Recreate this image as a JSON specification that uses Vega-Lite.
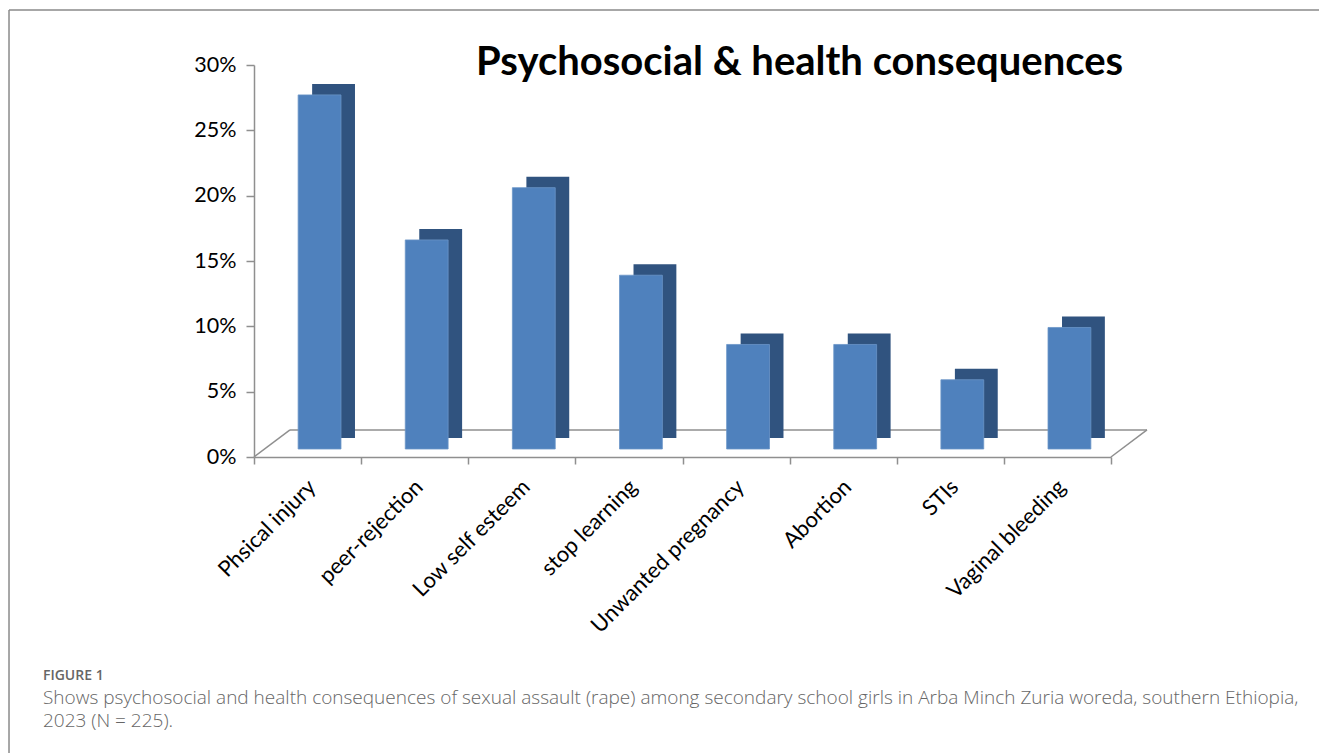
{
  "$schema": "https://vega.github.io/schema/vega-lite/v6.json",
  "width": 893,
  "height": 392,
  "autosize": {"type": "none"},
  "padding": {"left": 254, "top": 65, "right": 172, "bottom": 296},
  "background": "white",
  "config": {"view": {"stroke": null}, "font": "Lato"},
  "data": {
    "values": [
      {"category": "Phsical injury", "value": 0.271},
      {"category": "peer-rejection", "value": 0.16},
      {"category": "Low self esteem", "value": 0.2},
      {"category": "stop learning", "value": 0.133},
      {"category": "Unwanted pregnancy", "value": 0.08},
      {"category": "Abortion", "value": 0.08},
      {"category": "STIs", "value": 0.053},
      {"category": "Vaginal bleeding", "value": 0.093}
    ]
  },
  "layer": [
    {
      "data": {"values": [{}]},
      "layer": [
        {
          "mark": {"type": "rule", "color": "#8f8f8f", "strokeWidth": 1.5},
          "encoding": {
            "x": {"datum": 0.336, "type": "quantitative", "scale": {"domain": [0, 8.3363], "nice": false, "zero": false}, "axis": null},
            "x2": {"datum": 8.3363},
            "y": {"datum": 0.0207, "type": "quantitative", "scale": {"domain": [0, 0.3], "nice": false},
              "axis": {"title": null, "format": ".0%", "values": [0, 0.05, 0.1, 0.15, 0.2, 0.25, 0.3], "grid": false, "labelFont": "Lato", "labelFontSize": 21.5, "labelColor": "#000000", "tickSize": 8, "tickWidth": 1.5, "tickColor": "#8f8f8f", "domainColor": "#8f8f8f", "domainWidth": 1.5, "labelPadding": 10}},
            "y2": {"datum": 0.0207}
          }
        },
        {
          "mark": {"type": "rule", "color": "#8f8f8f", "strokeWidth": 1.5},
          "encoding": {
            "x": {"datum": 0, "type": "quantitative"},
            "x2": {"datum": 0.336},
            "y": {"datum": 0, "type": "quantitative"},
            "y2": {"datum": 0.0207}
          }
        },
        {
          "mark": {"type": "rule", "color": "#8f8f8f", "strokeWidth": 1.5},
          "encoding": {
            "x": {"datum": 8.0, "type": "quantitative"},
            "x2": {"datum": 8.3363},
            "y": {"datum": 0, "type": "quantitative"},
            "y2": {"datum": 0.0207}
          }
        },
        {
          "mark": {"type": "rule", "color": "#8a8a8a", "strokeWidth": 1.5},
          "encoding": {
            "x": {"datum": -2.287, "type": "quantitative"},
            "x2": {"datum": 9.95},
            "y": {"datum": 0.3421, "type": "quantitative"},
            "y2": {"datum": 0.3421}
          }
        },
        {
          "mark": {"type": "rule", "color": "#8a8a8a", "strokeWidth": 1.5},
          "encoding": {
            "x": {"datum": -2.287, "type": "quantitative"},
            "x2": {"datum": -2.287},
            "y": {"datum": 0.3421, "type": "quantitative"},
            "y2": {"datum": -0.235}
          }
        },
        {
          "mark": {"type": "text", "text": "Psychosocial & health consequences", "font": "Lato", "fontWeight": "bold", "fontSize": 40, "align": "center", "baseline": "alphabetic", "color": "#000000"},
          "encoding": {
            "x": {"datum": 5.0924, "type": "quantitative"},
            "y": {"datum": 0.2923, "type": "quantitative"}
          }
        },
        {
          "mark": {"type": "text", "text": "FIGURE 1", "font": "Open Sans", "fontWeight": 600, "fontSize": 14, "align": "left", "baseline": "alphabetic", "color": "#666666"},
          "encoding": {
            "x": {"datum": -1.97, "type": "quantitative"},
            "y": {"datum": -0.1707, "type": "quantitative"}
          }
        },
        {
          "mark": {"type": "text", "text": "Shows psychosocial and health consequences of sexual assault (rape) among secondary school girls in Arba Minch Zuria woreda, southern Ethiopia,", "font": "Open Sans", "fontWeight": 300, "fontSize": 19, "align": "left", "baseline": "alphabetic", "color": "#666666"},
          "encoding": {
            "x": {"datum": -1.97, "type": "quantitative"},
            "y": {"datum": -0.1889, "type": "quantitative"}
          }
        },
        {
          "mark": {"type": "text", "text": "2023 (N = 225).", "font": "Open Sans", "fontWeight": 300, "fontSize": 19, "align": "left", "baseline": "alphabetic", "color": "#666666"},
          "encoding": {
            "x": {"datum": -1.97, "type": "quantitative"},
            "y": {"datum": -0.2065, "type": "quantitative"}
          }
        }
      ]
    },
    {
      "layer": [
        {
          "mark": {"type": "bar", "color": "#30537f", "width": {"band": 0.4}, "xOffset": 26, "x2Offset": 26, "yOffset": -19, "y2Offset": -19},
          "encoding": {
            "x": {"field": "category", "type": "nominal", "sort": null, "scale": {"range": [0, 857], "paddingInner": 0, "paddingOuter": 0},
              "axis": {"orient": "bottom", "title": null, "labelAngle": -45, "labelLimit": 400, "labelFont": "Lato", "labelFontSize": 22, "labelColor": "#000000", "tickBand": "extent", "tickSize": 7, "tickWidth": 1.5, "tickColor": "#8f8f8f", "domainColor": "#8f8f8f", "domainWidth": 1.5, "labelPadding": 12, "labelOffset": -3}},
            "y": {"field": "value", "type": "quantitative",
              "axis": {"title": null, "format": ".0%", "values": [0, 0.05, 0.1, 0.15, 0.2, 0.25, 0.3], "grid": false, "labelFont": "Lato", "labelFontSize": 21.5, "labelColor": "#000000", "tickSize": 8, "tickWidth": 1.5, "tickColor": "#8f8f8f", "domainColor": "#8f8f8f", "domainWidth": 1.5, "labelPadding": 10}}
          }
        },
        {
          "mark": {"type": "bar", "color": "#4f81bd", "stroke": "#6b95c8", "strokeWidth": 0.8, "width": {"band": 0.4}, "xOffset": 12, "x2Offset": 12, "yOffset": -8, "y2Offset": -8},
          "encoding": {
            "x": {"field": "category", "type": "nominal", "sort": null,
              "axis": {"orient": "bottom", "title": null, "labelAngle": -45, "labelLimit": 400, "labelFont": "Lato", "labelFontSize": 22, "labelColor": "#000000", "tickBand": "extent", "tickSize": 7, "tickWidth": 1.5, "tickColor": "#8f8f8f", "domainColor": "#8f8f8f", "domainWidth": 1.5, "labelPadding": 12, "labelOffset": -3}},
            "y": {"field": "value", "type": "quantitative",
              "axis": {"title": null, "format": ".0%", "values": [0, 0.05, 0.1, 0.15, 0.2, 0.25, 0.3], "grid": false, "labelFont": "Lato", "labelFontSize": 21.5, "labelColor": "#000000", "tickSize": 8, "tickWidth": 1.5, "tickColor": "#8f8f8f", "domainColor": "#8f8f8f", "domainWidth": 1.5, "labelPadding": 10}}
          }
        }
      ]
    }
  ],
  "resolve": {"scale": {"x": "independent"}}
}
